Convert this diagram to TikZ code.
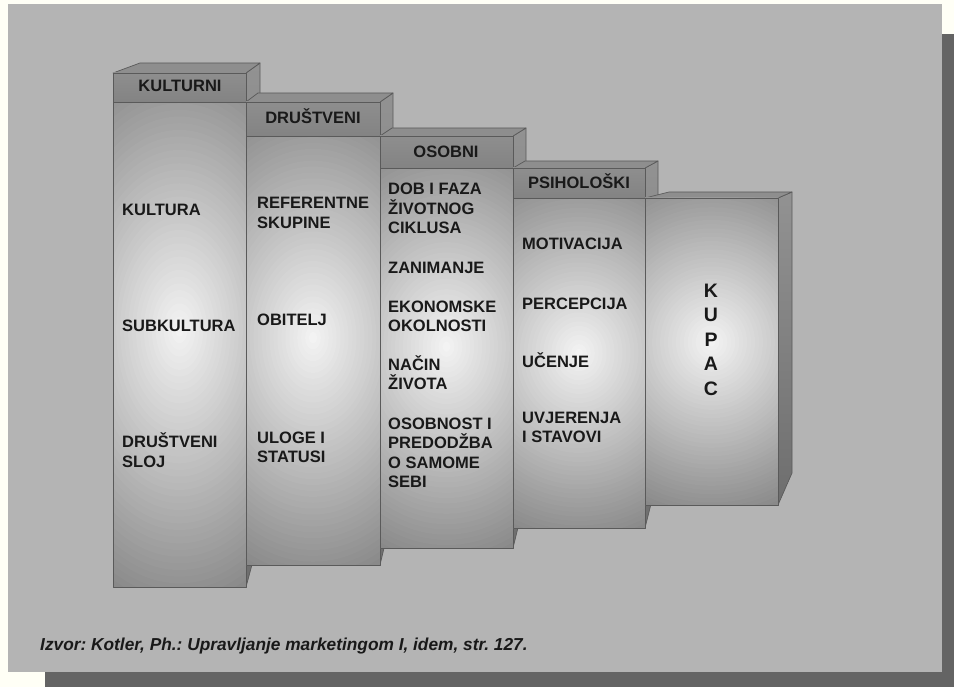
\documentclass[tikz,border=0pt]{standalone}
\usepackage{fontspec}
\setmainfont{Liberation Sans}
\frenchspacing
\definecolor{paper}{HTML}{FFFFF6}
\definecolor{panel}{HTML}{B4B4B4}
\definecolor{shadowc}{HTML}{646464}
\definecolor{edgec}{HTML}{5A5A5A}
\definecolor{topc}{HTML}{8E8E8E}
\definecolor{headtop}{HTML}{8E8E8E}
\definecolor{headbot}{HTML}{838383}
\definecolor{sidetop}{HTML}{929292}
\definecolor{sidebot}{HTML}{6E6E6E}
\definecolor{gla}{HTML}{F5F5F5}
\definecolor{glc}{HTML}{7A7A7A}
\tikzset{
  edge/.style={draw=edgec, line width=0.7pt, line join=round},
  lbl/.style={font=\bfseries\fontsize{16.5}{19.5}\selectfont, align=left, anchor=base west, inner sep=0pt, text=black!90},
  hdr/.style={font=\bfseries\fontsize{16.5}{19.5}\selectfont, anchor=base, inner sep=0pt, text=black!90},
}
% glowing front face: #1 L, #2 R, #3 top, #4 bottom
\newcommand\glowbody[4]{%
  \begin{scope}
    \clip (#1,#3) rectangle (#2,#4);
    \fill[glc] (#1,#3) rectangle (#2,#4);
    \pgfmathsetmacro\glowcx{(#1+#2)/2}
    \pgfmathsetmacro\glowcy{#3+0.47*(#4-#3)}
    \pgfmathsetmacro\glowry{0.66*(#4-#3)}
    \foreach \gi in {0,...,47} {
      \pgfmathsetmacro\glowp{100*\gi/48}
      \pgfmathsetmacro\glowr{1-\gi/48}
      \fill[gla!\glowp!glc] (\glowcx,\glowcy) ellipse ({\glowr*190} and {\glowr*\glowry});
    }
  \end{scope}
  \draw[edge] (#1,#3) rectangle (#2,#4);
}
% #1 L, #2 R, #3 front top, #4 header bottom, #5 bottom, #6 back-left x, #7 back-right x, #8 back y, #9 side back-bottom y
\newcommand\pillar[9]{%
  \shade[edge, top color=sidetop, bottom color=sidebot] (#2,#3) -- (#7,#8) -- (#7,#9) -- (#2,#5) -- cycle;
  \fill[edge, fill=topc] (#1,#3) -- (#6,#8) -- (#7,#8) -- (#2,#3) -- cycle;
  \glowbody{#1}{#2}{#4}{#5}
  \shade[edge, top color=headtop, bottom color=headbot] (#1,#3) rectangle (#2,#4);
}
\begin{document}
\begin{tikzpicture}[x=1pt,y=-1pt]
\useasboundingbox (0,0) rectangle (954,687);
\fill[paper] (0,0) rectangle (954,687);
\fill[shadowc] (45,34) rectangle (954,687);
\fill[panel] (8,4) rectangle (942,672);

% columns, left to right
\pillar{113}{246}{73}{102}{587}{140}{260}{63}{535}
\pillar{246}{380}{102}{136}{565}{258}{393}{93}{510}
\pillar{380}{513}{136}{168}{548}{392}{526}{128}{495}
\pillar{513}{645}{168}{198}{528}{525}{658}{161}{476}
% KUPAC column (no header)
\shade[edge, top color=sidetop, bottom color=sidebot] (778,198) -- (792,192) -- (792,473) -- (778,505) -- cycle;
\fill[edge, fill=topc] (645,198) -- (669,192) -- (792,192) -- (778,198) -- cycle;
\glowbody{645}{778}{198}{505}

% headers
\node[hdr] (kulturni) at (180,92) {KULTURNI};
\node[hdr] (drustveni) at (313,124) {DRUŠTVENI};
\node[hdr] (osobni) at (446,158) {OSOBNI};
\node[hdr] (psiholoski) at (579,189) {PSIHOLOŠKI};

% column 1 (anchor = baseline of the last line)
\node[lbl] (kultura) at (122,216) {KULTURA};
\node[lbl] (subkultura) at (122,331) {SUBKULTURA};
\node[lbl] (sloj) at (122,467) {DRUŠTVENI\\SLOJ};
% column 2
\node[lbl] (referentne) at (257,228.5) {REFERENTNE\\SKUPINE};
\node[lbl] (obitelj) at (257,326) {OBITELJ};
\node[lbl] (uloge) at (257,462.5) {ULOGE I\\STATUSI};
% column 3
\node[lbl] (dob) at (388,234) {DOB I FAZA\\ŽIVOTNOG\\CIKLUSA};
\node[lbl] (zanimanje) at (388,274) {ZANIMANJE};
\node[lbl] (ekonomske) at (388,331.5) {EKONOMSKE\\OKOLNOSTI};
\node[lbl] (nacin) at (388,389.5) {NAČIN\\ŽIVOTA};
\node[lbl] (osobnost) at (388,487.5) {OSOBNOST I\\PREDODŽBA\\O SAMOME\\SEBI};
% column 4
\node[lbl] (motivacija) at (522,250) {MOTIVACIJA};
\node[lbl] (percepcija) at (522,309) {PERCEPCIJA};
\node[lbl] (ucenje) at (522,367) {UČENJE};
\node[lbl] (uvjerenja) at (522,442.5) {UVJERENJA\\I STAVOVI};
% column 5
\node[font=\bfseries\fontsize{19.5}{24.5}\selectfont, align=center, anchor=base, inner sep=0pt, text=black!90] (kupac) at (711,395) {K\\U\\P\\A\\C};

% source
\node[font=\bfseries\itshape\fontsize{17.3}{20}\selectfont, anchor=base west, inner sep=0pt, text=black!90] (izvor) at (40,650) {\frenchspacing Izvor: Kotler, Ph.: Upravljanje marketingom I, idem, str. 127.};
\end{tikzpicture}
\end{document}
